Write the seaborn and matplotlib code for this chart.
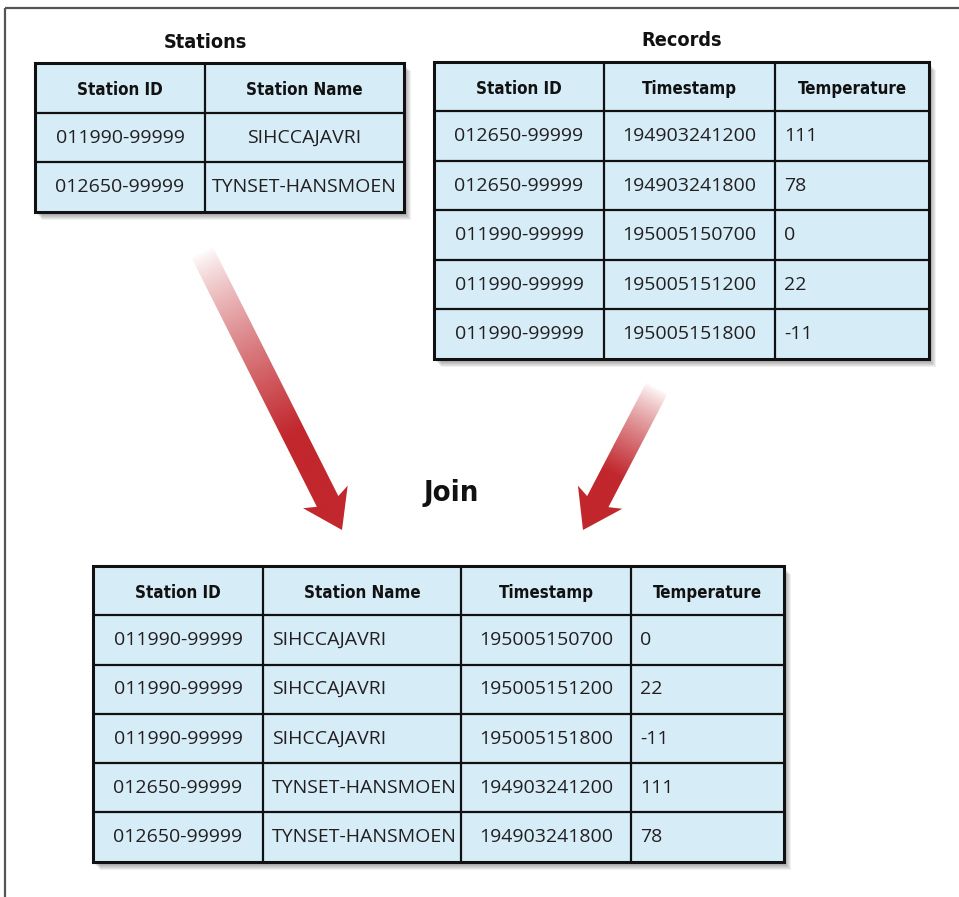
import numpy as np
import seaborn as sns
import matplotlib.pyplot as plt
from matplotlib.patches import Rectangle, Polygon

# table contents
stations_cols = ["Station ID", "Station Name"]
stations_rows = [
    ["011990-99999", "SIHCCAJAVRI"],
    ["012650-99999", "TYNSET-HANSMOEN"],
]

records_cols = ["Station ID", "Timestamp", "Temperature"]
records_rows = [
    ["012650-99999", "194903241200", "111"],
    ["012650-99999", "194903241800", "78"],
    ["011990-99999", "195005150700", "0"],
    ["011990-99999", "195005151200", "22"],
    ["011990-99999", "195005151800", "-11"],
]

join_cols = ["Station ID", "Station Name", "Timestamp", "Temperature"]
join_rows = [
    ["011990-99999", "SIHCCAJAVRI", "195005150700", "0"],
    ["011990-99999", "SIHCCAJAVRI", "195005151200", "22"],
    ["011990-99999", "SIHCCAJAVRI", "195005151800", "-11"],
    ["012650-99999", "TYNSET-HANSMOEN", "194903241200", "111"],
    ["012650-99999", "TYNSET-HANSMOEN", "194903241800", "78"],
]

sns.set_style("white")
plt.rcParams["font.family"] = ["Open Sans", "DejaVu Sans"]

CELL = "#d6edf8"
RED = np.array([193, 39, 45]) / 255.0
HEAD_FONT = dict(fontweight="bold", family=["Liberation Sans Narrow", "DejaVu Sans"],
                 fontstretch="condensed", color="#111111")

fig = plt.figure(figsize=(9.59, 8.97), dpi=100)
ax = fig.add_axes([0, 0, 1, 1])
ax.set_xlim(0, 959)
ax.set_ylim(897, 0)
ax.axis("off")

# frame lines at top and left
ax.plot([5, 959], [8, 8], color="#555555", lw=1.6, solid_capstyle="butt")
ax.plot([5, 5], [8, 897], color="#555555", lw=1.6, solid_capstyle="butt")


def draw_table(x0, y0, widths, row_h, header, rows, aligns, title=None, title_x=None):
    n = len(rows) + 1
    total_w = sum(widths)
    total_h = n * row_h
    # soft drop shadow
    for k in range(7):
        ax.add_patch(Rectangle((x0 + 1 + k, y0 + 2 + k), total_w, total_h,
                               facecolor="black", alpha=0.06, lw=0, zorder=1))
    ax.add_patch(Rectangle((x0, y0), total_w, total_h, facecolor=CELL,
                           edgecolor="none", zorder=2))
    xs = np.concatenate([[x0], x0 + np.cumsum(widths)])
    for x in xs[1:-1]:
        ax.plot([x, x], [y0, y0 + total_h], color="#111111", lw=1.6, zorder=3)
    for i in range(1, n):
        y = y0 + i * row_h
        ax.plot([x0, x0 + total_w], [y, y], color="#111111", lw=1.6, zorder=3)
    ax.add_patch(Rectangle((x0, y0), total_w, total_h, facecolor="none",
                           edgecolor="#111111", lw=2.2, zorder=4))
    for j, name in enumerate(header):
        ax.text((xs[j] + xs[j + 1]) / 2, y0 + row_h / 2 + 2, name, ha="center",
                va="center", fontsize=12.2, zorder=5, **HEAD_FONT)
    for i, row in enumerate(rows):
        yc = y0 + (i + 1.5) * row_h
        for j, val in enumerate(row):
            if aligns[j] == "left":
                ax.text(xs[j] + 9, yc, val, ha="left", va="center",
                        fontsize=14, color="#231f20", zorder=5)
            else:
                ax.text((xs[j] + xs[j + 1]) / 2, yc, val, ha="center",
                        va="center", fontsize=14, color="#231f20", zorder=5)
    if title:
        tx = title_x if title_x is not None else x0 + total_w / 2
        ax.text(tx, y0 - 21, title, ha="center", va="center",
                fontsize=14.2, **HEAD_FONT)


def draw_arrow(tail, tip, w=24, hw=50, hl=32, full_at=0.6):
    tail = np.array(tail, float)
    tip = np.array(tip, float)
    d = tip - tail
    L = np.hypot(*d)
    u = d / L
    nrm = np.array([-u[1], u[0]])
    base = tip - u * hl
    pts = [tail + nrm * w / 2, base + nrm * w / 2, base - u * 5 + nrm * hw / 2,
           tip, base - u * 5 - nrm * hw / 2, base - nrm * w / 2, tail - nrm * w / 2]
    poly = Polygon(pts, closed=True, facecolor="none", edgecolor="none",
                   transform=ax.transData)
    ax.add_patch(poly)
    pts = np.array(pts)
    xmin, ymin = pts.min(axis=0) - 2
    xmax, ymax = pts.max(axis=0) + 2
    gx = np.linspace(xmin, xmax, 200)
    gy = np.linspace(ymin, ymax, 300)
    X, Y = np.meshgrid(gx, gy)
    t = ((X - tail[0]) * u[0] + (Y - tail[1]) * u[1]) / L
    alpha = np.clip(t / full_at, 0, 1) ** 0.8
    img = np.zeros(X.shape + (4,))
    img[..., :3] = RED
    img[..., 3] = alpha
    im = ax.imshow(img, extent=(xmin, xmax, ymax, ymin), origin="upper",
                   interpolation="bilinear", zorder=2)
    im.set_clip_path(poly)


draw_table(35, 63, [170, 199], 49.7, stations_cols, stations_rows,
           ["center", "center"], title="Stations", title_x=205)
draw_table(434, 62, [170, 171, 154], 49.5, records_cols, records_rows,
           ["center", "center", "left"], title="Records")
draw_table(93, 566, [170, 198, 170, 153], 49.3, join_cols, join_rows,
           ["center", "left", "center", "left"])

ax.text(451, 493, "Join", ha="center", va="center", fontsize=21, **HEAD_FONT)

draw_arrow((202, 252), (342, 530), full_at=0.65)
draw_arrow((657, 388), (583, 530), full_at=0.6)

ax.set_xlim(0, 959)
ax.set_ylim(897, 0)
fig.savefig("out.png", dpi=100)
